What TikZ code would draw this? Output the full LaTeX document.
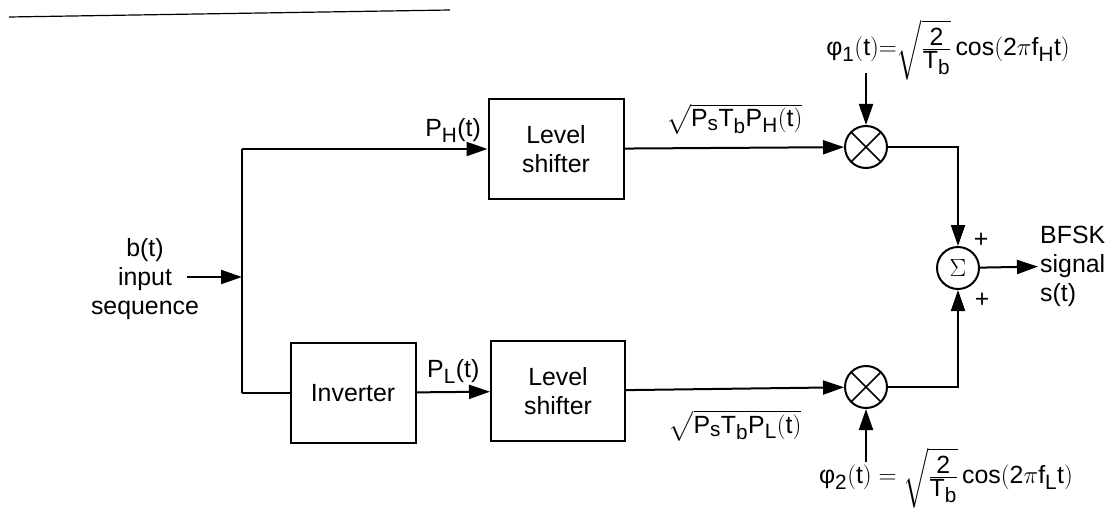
\documentclass[tikz,border=0pt]{standalone}
\usepackage{amsmath}
\usepackage{fontspec}
\setmainfont{Liberation Sans}
\setsansfont{Liberation Sans}
\usetikzlibrary{arrows.meta,positioning}
\newcommand{\mtx}[1]{\mathrm{#1}}
\newcommand{\fiw}{\mbox{φ}}
\newcommand{\tbfrac}{\tfrac{\mbox{2}}{\mbox{T\textsubscript{b}}}}

\begin{document}
\begin{tikzpicture}[x=1pt,y=-1pt, font=\fontsize{24.88}{29}\selectfont,
blk/.style={draw,line width=2pt,align=center,minimum height=100pt,inner sep=0pt},
mixer/.style={draw,circle,line width=2pt,minimum size=42pt,inner sep=0pt,
  path picture={\draw[line width=1.6pt] (path picture bounding box.north west)--(path picture bounding box.south east)
  (path picture bounding box.north east)--(path picture bounding box.south west);}},
adder/.style={draw,circle,line width=2pt,minimum size=42pt,inner sep=0pt},
arr/.style={-{Triangle[length=21pt,width=14pt]},line width=2pt},
wire/.style={line width=2pt}]
\useasboundingbox (0,0) rectangle (1110,516);
\draw[line width=1.2pt] (9,17) -- (450,10);
% blocks
\node[blk,minimum width=135pt] (lsH) at (556,149) {Level\\shifter};
\node[blk,minimum width=125pt] (inv) at (353,393) {Inverter};
\node[blk,minimum width=134pt] (lsL) at (558,391) {Level\\shifter};
\node[mixer] (mxH) at (866,147) {};
\node[mixer] (mxL) at (866,387) {};
\node[adder] (sum) at (958,268) {$\Sigma$};
% input and branch
\node[align=center] (bt) at (145,279) {b(t)\\input\\sequence};
\coordinate (in) at (187,277);
\coordinate (split) at (242,277);
\coordinate (brH) at (242,149);
\coordinate (brL) at (242,393);
\draw[arr] (in) -- (split);
\draw[wire] (brH) -- (brL);
\draw[arr] (brH) -- (lsH) node[pos=0.86,above=2pt] (pH) {P\textsubscript{H}(t)};
\draw[wire] (brL) -- (inv);
\draw[arr] (inv) -- (lsL) node[midway,above=4pt] (pL) {P\textsubscript{L}(t)};
\draw[arr] (lsH) -- (mxH) node[midway,above=9pt] (sH) {$\sqrt{\mtx{P_sT_bP_H(t)}}$};
\draw[arr] (lsL) -- (mxL) node[midway,below=17pt] (sL) {$\sqrt{\mtx{P_sT_bP_L(t)}}$};
% carriers
\node[inner sep=1pt] (phH) at (948,50) {$\fiw_{\mtx{1}}\mtx{(t)}{=}\sqrt{\tbfrac}\cos(\mtx{2}\pi \mtx{f_Ht})$};
\node[inner sep=1pt] (phL) at (946,478) {$\fiw_{\mtx{2}}\mtx{(t)} = \sqrt{\tbfrac}\cos(\mtx{2}\pi\mtx{f_Lt})$};
\coordinate (phHin) at (866,73);
\coordinate (phLin) at (866,462);
\draw[arr] (phHin) -- (mxH);
\draw[arr] (phLin) -- (mxL);
% sum and output
\draw[arr] (mxH) -| (sum);
\draw[arr] (mxL) -| (sum);
\node at (981,240) {+};
\node at (982,300) {+};
\node[align=left,anchor=west,inner sep=2pt] (out) at (1038,266) {BFSK\\signal\\s(t)};
\draw[arr] (sum) -- (out);
\end{tikzpicture}
\end{document}
